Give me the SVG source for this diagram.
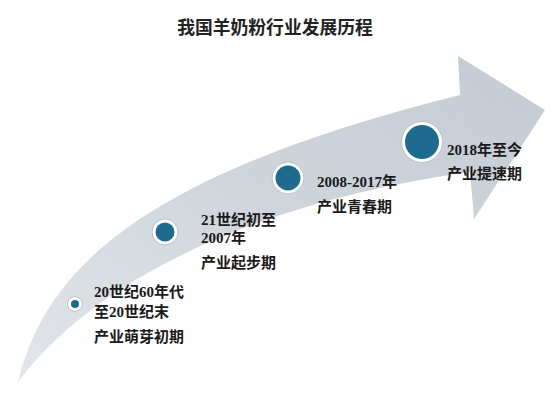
<svg xmlns="http://www.w3.org/2000/svg" width="553" height="404" viewBox="0 0 553 404">
  <defs>
    <linearGradient id="arrowGrad" x1="0" y1="1" x2="1" y2="0">
      <stop offset="0" stop-color="#e2e6ea"/>
      <stop offset="0.5" stop-color="#cfd5db"/>
      <stop offset="1" stop-color="#c4cbd3"/>
    </linearGradient>
  </defs>
  <style>
    .title { font-family: "Noto Sans CJK SC", "Liberation Sans", sans-serif; font-weight: bold; font-size: 17.8px; fill: #222; }
    .lbl { font-family: "Liberation Serif", "Noto Sans CJK SC", serif; font-weight: bold; font-size: 15px; fill: #1a1a1a; }
    .ring { fill: #ffffff; stroke: #b9c1c9; stroke-width: 1; }
    .core { fill: #1f6b8f; }
  </style>
  <rect width="553" height="404" fill="#ffffff"/>
  <text class="title" x="275" y="34" text-anchor="middle">我国羊奶粉行业发展历程</text>
  <g id="connectors">
    <path id="arrow" fill="url(#arrowGrad)" d="M18,382 C45,270 140,175 460,95 L458,56 L545,110 L474,219 L470,172 C300,195 110,260 18,382 Z"/>
  </g>
  <g id="stage1">
    <circle class="ring" cx="75" cy="304" r="7.5"/>
    <circle class="core" cx="75" cy="304" r="4"/>
    <text class="lbl" x="94" y="297">20世纪60年代</text>
    <text class="lbl" x="94" y="317">至20世纪末</text>
    <text class="lbl" x="94" y="342">产业萌芽初期</text>
  </g>
  <g id="stage2">
    <circle class="ring" cx="165" cy="232" r="13"/>
    <circle class="core" cx="165" cy="232" r="9.5"/>
    <text class="lbl" x="201" y="225">21世纪初至</text>
    <text class="lbl" x="201" y="243">2007年</text>
    <text class="lbl" x="201" y="268">产业起步期</text>
  </g>
  <g id="stage3">
    <circle class="ring" cx="288" cy="178" r="16"/>
    <circle class="core" cx="288" cy="178" r="12.5"/>
    <text class="lbl" x="317" y="187">2008-2017年</text>
    <text class="lbl" x="317" y="212">产业青春期</text>
  </g>
  <g id="stage4">
    <circle class="ring" cx="422" cy="142" r="20.5"/>
    <circle class="core" cx="422" cy="142" r="17"/>
    <text class="lbl" x="447" y="155">2018年至今</text>
    <text class="lbl" x="447" y="179">产业提速期</text>
  </g>
</svg>
